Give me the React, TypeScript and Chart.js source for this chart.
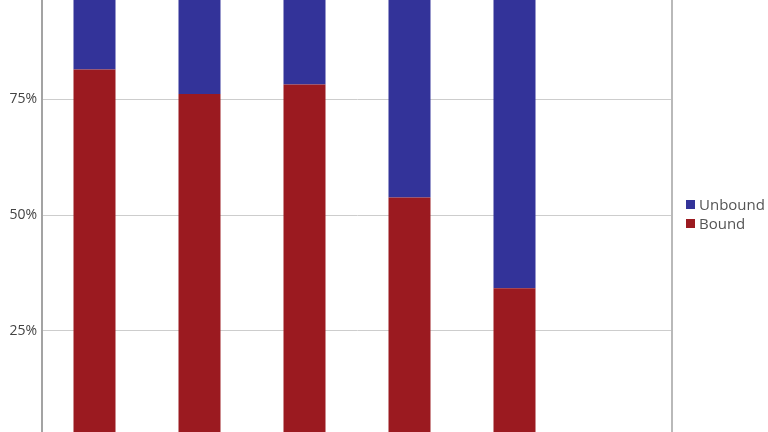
import { useEffect, useRef } from 'react';
import { Chart, ChartConfiguration, registerables } from 'chart.js';

Chart.register(...registerables);

// Categories (their labels sit below the cropped frame, so they are not shown)
const categories = ['1', '2', '3', '4', '5', '6'];
const boundValues = [81.4, 76.1, 78.2, 53.8, 34.2, null];
const unboundValues = [18.6, 23.9, 21.8, 46.2, 65.8, null];
const yTicks = [0, 25, 50, 75, 100];

const BLUE = '#333399';
const RED = '#9b1a20';

// right hand frame line of the plot area
const frameRight = {
  id: 'frameRight',
  afterDraw(chart: Chart) {
    const { ctx, chartArea } = chart;
    ctx.save();
    ctx.strokeStyle = '#b9b9b9';
    ctx.lineWidth = 2;
    ctx.beginPath();
    ctx.moveTo(chartArea.right, chartArea.top);
    ctx.lineTo(chartArea.right, chartArea.bottom);
    ctx.stroke();
    ctx.restore();
  },
};

export default function App() {
  const canvasRef = useRef<HTMLCanvasElement>(null);

  useEffect(() => {
    if (!canvasRef.current) return;
    const config: ChartConfiguration = {
      type: 'bar',
      data: {
        labels: categories,
        datasets: [
          {
            label: 'Bound',
            data: boundValues as any,
            backgroundColor: RED,
            borderWidth: 0,
            barPercentage: 0.4,
            categoryPercentage: 1,
          },
          {
            label: 'Unbound',
            data: unboundValues as any,
            backgroundColor: BLUE,
            borderWidth: 0,
            barPercentage: 0.4,
            categoryPercentage: 1,
          },
        ],
      },
      options: {
        responsive: true,
        maintainAspectRatio: false,
        animation: false,
        layout: { padding: { left: 0, right: 96, top: 11.5, bottom: 12.5 } },
        plugins: {
          legend: { display: false },
          tooltip: { enabled: false },
        },
        scales: {
          x: {
            stacked: true,
            display: false,
          },
          y: {
            stacked: true,
            min: 0,
            max: 100,
            afterFit: (scale: any) => {
              scale.width = 42;
            },
            afterBuildTicks: (scale: any) => {
              scale.ticks = yTicks.map((v) => ({ value: v }));
            },
            ticks: {
              padding: 5,
              color: '#444',
              font: { family: 'Open Sans', size: 14 },
              callback: (v: any) => v + '%',
            },
            grid: { color: '#cdcdcd', lineWidth: 1, drawTicks: false },
            border: { display: true, color: '#a3a3a3', width: 2 },
          },
        },
      },
      plugins: [frameRight],
    };
    const chart = new Chart(canvasRef.current, config);
    return () => chart.destroy();
  }, []);

  return (
    <div
      style={{
        position: 'fixed',
        left: 0,
        top: 0,
        width: 768,
        height: 432,
        overflow: 'hidden',
        background: '#fff',
        fontFamily: 'Open Sans, sans-serif',
      }}
    >
      <div style={{ position: 'absolute', left: 0, top: -30, width: 768, height: 490 }}>
        <canvas ref={canvasRef} />
      </div>
      {/* Legend */}
      <div style={{ position: 'absolute', left: 686, top: 195, fontSize: 15, color: '#555', lineHeight: '19px' }}>
        <div style={{ display: 'flex', alignItems: 'center' }}>
          <span style={{ width: 9, height: 9, background: BLUE, marginRight: 4, display: 'inline-block' }} />
          Unbound
        </div>
        <div style={{ display: 'flex', alignItems: 'center' }}>
          <span style={{ width: 9, height: 9, background: RED, marginRight: 4, display: 'inline-block' }} />
          Bound
        </div>
      </div>
    </div>
  );
}
